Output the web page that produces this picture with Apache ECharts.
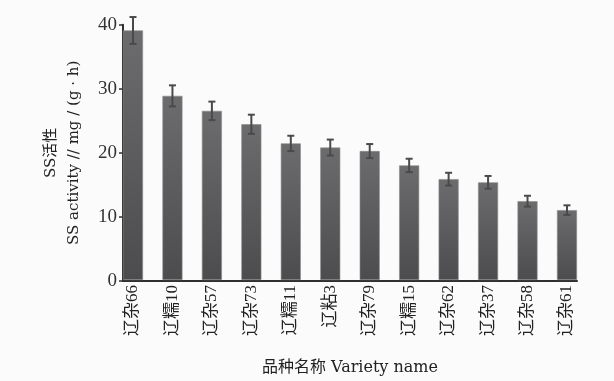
<!DOCTYPE html>
<html>
<head>
<meta charset="utf-8">
<script src="https://cdn.jsdelivr.net/npm/echarts@6/dist/echarts.min.js"></script>
<style>
html,body{margin:0;padding:0;background:#fbfbfb;}
#chart{width:614px;height:381px;}
</style>
</head>
<body>
<div id="chart"></div>
<script>
// SS activity per rice variety, mean ± error
const varieties = ['辽杂66','辽糯10','辽杂57','辽杂73','辽糯11','辽粘3','辽杂79','辽糯15','辽杂62','辽杂37','辽杂58','辽杂61'];
const activity  = [39.1, 28.85, 26.5, 24.4, 21.4, 20.75, 20.2, 17.95, 15.8, 15.3, 12.35, 10.95];
const errors    = [2.1, 1.65, 1.45, 1.5, 1.2, 1.25, 1.1, 1.05, 1.0, 1.0, 0.85, 0.75];
const yTicks    = [0, 10, 20, 30, 40];

const serif = '"Liberation Serif", "Noto Sans CJK SC", serif';
const wideSerif = '"DejaVu Serif", "Noto Sans CJK SC", serif';
const axisColor = '#2f2f2f';

const chart = echarts.init(document.getElementById('chart'));

chart.setOption({
  backgroundColor: '#fbfbfb',
  animation: false,
  grid: [
    // frame: axis lines and value ticks
    { left: 123, right: 37, top: 24.7, bottom: 100 },
    // bars: categories spread so the first bar sits on the y axis
    { left: 113.27, right: 27.3, top: 24.7, bottom: 100 }
  ],
  xAxis: [
    {
      gridIndex: 0, type: 'value', min: 0, max: 1,
      axisLine: { show: true, lineStyle: { color: axisColor, width: 2 } },
      axisTick: { show: false }, axisLabel: { show: false }, splitLine: { show: false }
    },
    {
      gridIndex: 1, type: 'category', data: varieties,
      axisLine: { show: false }, axisTick: { show: false },
      axisLabel: {
        rotate: 90, margin: 5, color: '#222',
        fontFamily: serif, fontSize: 17
      },
      name: '品种名称 Variety name',
      nameLocation: 'middle', nameGap: 80,
      nameTextStyle: { color: '#222', fontFamily: wideSerif, fontSize: 16 }
    }
  ],
  yAxis: [
    {
      gridIndex: 0, type: 'value', min: yTicks[0], max: yTicks[yTicks.length - 1], interval: 10,
      axisLine: { show: true, lineStyle: { color: axisColor, width: 2 } },
      axisTick: { show: true, inside: false, length: 4, lineStyle: { color: axisColor, width: 1.5 } },
      axisLabel: { color: '#333', fontFamily: serif, fontSize: 19, margin: 6 },
      splitLine: { show: false },
      name: 'SS活性\nSS activity // mg / (g · h)',
      nameLocation: 'middle', nameGap: 37, nameRotate: 90,
      nameTextStyle: { color: '#222', fontFamily: wideSerif, fontSize: 15, lineHeight: 23, align: 'center' }
    },
    {
      gridIndex: 1, type: 'value', min: yTicks[0], max: yTicks[yTicks.length - 1],
      show: false
    }
  ],
  series: [
    {
      type: 'bar',
      xAxisIndex: 1, yAxisIndex: 1,
      data: activity,
      barWidth: 20,
      itemStyle: {
        color: new echarts.graphic.LinearGradient(0, 0, 0, 1, [
          { offset: 0, color: '#6c6c6e' },
          { offset: 1, color: '#4c4c4e' }
        ]),
        borderColor: '#8a8a8a',
        borderWidth: 0.6
      }
    },
    {
      type: 'custom',
      xAxisIndex: 1, yAxisIndex: 1,
      data: activity.map((v, i) => [i, v, errors[i]]),
      renderItem: function (params, api) {
        const i = api.value(0);
        const v = api.value(1);
        const e = api.value(2);
        const top = api.coord([i, v + e]);
        const bot = api.coord([i, v - e]);
        const half = 3.5;
        const style = { stroke: '#4a4a4a', lineWidth: 2 };
        return {
          type: 'group',
          children: [
            { type: 'line', shape: { x1: top[0], y1: top[1], x2: bot[0], y2: bot[1] }, style: style },
            { type: 'line', shape: { x1: top[0] - half, y1: top[1], x2: top[0] + half, y2: top[1] }, style: style },
            { type: 'line', shape: { x1: bot[0] - half, y1: bot[1], x2: bot[0] + half, y2: bot[1] }, style: style }
          ]
        };
      },
      z: 5
    }
  ]
});
</script>
</body>
</html>
